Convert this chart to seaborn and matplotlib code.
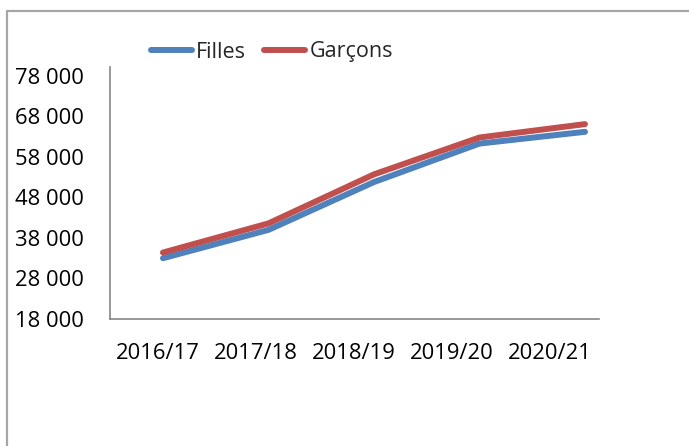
import numpy as np
import pandas as pd
import matplotlib
matplotlib.use("Agg")
import matplotlib.pyplot as plt
from matplotlib.lines import Line2D
import seaborn as sns

years = ["2016/17", "2017/18", "2018/19", "2019/20", "2020/21"]
filles = [33000, 40000, 51800, 61300, 64200]
garcons = [34400, 41600, 53700, 62800, 66100]
series_names = ["Filles", "Garçons"]
yticks = [18000, 28000, 38000, 48000, 58000, 68000, 78000]

sns.set_style("white")
plt.rcParams["font.family"] = ["Open Sans", "DejaVu Sans"]

df = pd.DataFrame({
    "pos": list(range(len(years))) * 2,
    "value": filles + garcons,
    "serie": [series_names[0]] * len(years) + [series_names[1]] * len(years),
})

fig = plt.figure(figsize=(6.89, 4.46), dpi=100)
ax = fig.add_axes([110 / 689, 1 - 319 / 446, 489 / 689, 252 / 446])
sns.lineplot(data=df, x="pos", y="value", hue="serie",
             palette={"Filles": "#4F81BD", "Garçons": "#C0504D"},
             linewidth=4.3, ax=ax, legend=False, solid_capstyle="round")

ax.set_xlim(-0.502, 4.133)
ax.set_ylim(18000, 80200)
ax.set_yticks(yticks)
ax.set_yticklabels([f"{v:,}".replace(",", " ") for v in yticks])
tick_pos = np.arange(len(years)) * 0.929 - 0.047
ax.set_xticks(tick_pos)
ax.set_xticklabels(years)
ax.set_xlabel("")
ax.set_ylabel("")
ax.tick_params(axis="y", length=0, pad=18.5, labelsize=15.8, colors="black")
ax.tick_params(axis="x", length=0, pad=17, labelsize=15.8, colors="black")
for s in ["top", "right"]:
    ax.spines[s].set_visible(False)
for s in ["left", "bottom"]:
    ax.spines[s].set_color("#868686")
    ax.spines[s].set_linewidth(1.2)

handles = [Line2D([], [], color="#4F81BD", lw=4.3, solid_capstyle="round"),
           Line2D([], [], color="#C0504D", lw=4.3, solid_capstyle="round")]
fig.legend(handles, series_names, loc="center", bbox_to_anchor=(272 / 689, 1 - 52 / 446),
           ncol=2, frameon=False, fontsize=15.5, handlelength=1.9,
           handletextpad=0.2, columnspacing=0.85)

# outer frame (partially visible)
fig.add_artist(Line2D([6.5 / 689, 6.5 / 689], [0, 1 - 10.5 / 446], color="#A6A6A6", lw=1.6,
                      transform=fig.transFigure))
fig.add_artist(Line2D([6.5 / 689, 1], [1 - 10.5 / 446, 1 - 10.5 / 446], color="#A6A6A6", lw=1.6,
                      transform=fig.transFigure))

fig.savefig("out.png", dpi=100)
